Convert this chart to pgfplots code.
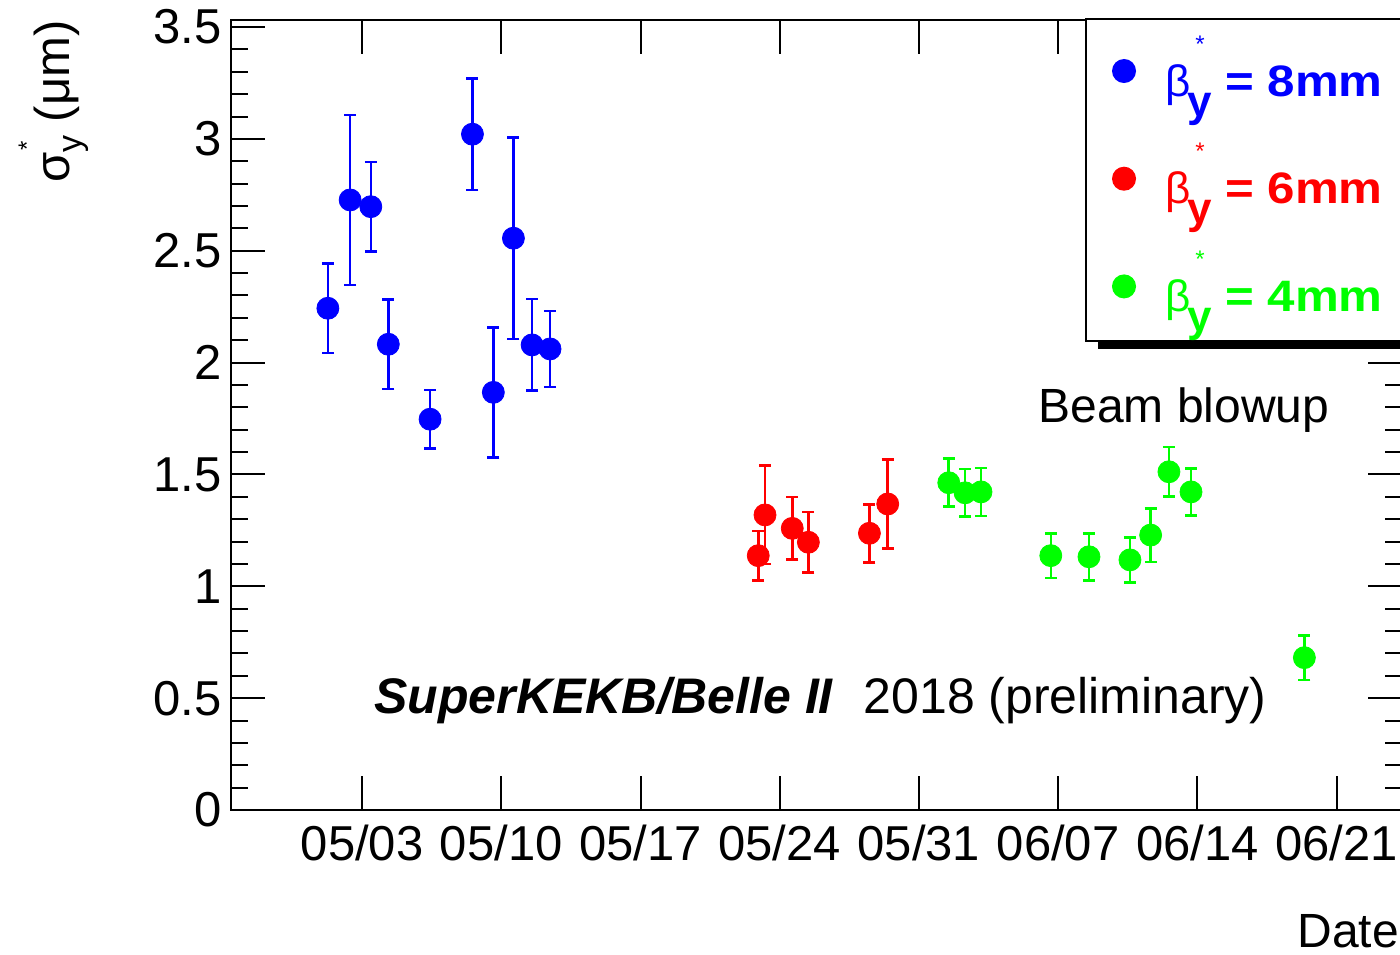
\documentclass[border=0pt]{standalone}
\usepackage{fontspec}
\setmainfont{Liberation Sans}
\newfontfamily\legfam{Liberation Sans}[FakeStretch=1.12]
\usepackage{pgfplots}
\pgfplotsset{compat=1.18}
\usetikzlibrary{shadows}
\definecolor{rblue}{RGB}{0,0,255}
\definecolor{rred}{RGB}{255,0,0}
\definecolor{rgreen}{RGB}{0,255,0}
\newcommand\legtext[1]{\fontsize{22}{26}\selectfont\hspace{15pt}β\kern-1.5pt\rlap{\raisebox{-10pt}{\bfseries y}}\rlap{\hspace{4pt}\raisebox{22pt}{\fontsize{12}{12}\selectfont *}}\hspace{19pt}{\legfam\bfseries = #1mm}\hspace{20pt}}
\begin{document}
\begin{tikzpicture}
\begin{axis}[
  at={(115.5pt,72pt)}, anchor=south west,
  scale only axis, width=585.5pt, height=395pt,
  xmin=-6.59, xmax=52.29, ymin=0, ymax=3.5315,
  xtick={0,7,14,21,28,35,42,49},
  xticklabels={05/03,05/10,05/17,05/24,05/31,06/07,06/14,06/21},
  ytick={0,0.5,1,1.5,2,2.5,3,3.5},
  minor y tick num=4,
  tick align=inside, tick pos=both,
  major tick length=17pt, minor tick length=8.5pt,
  axis line style={line width=1.4pt, black},
  tick style={line width=1pt, black},
  ticklabel style={font=\fontsize{24.5}{28}\selectfont},
  yticklabel style={inner sep=0pt, xshift=-4.5pt},
  xticklabel style={inner sep=0pt, yshift=-7.5pt, anchor=north},
  /pgf/number format/assume math mode=true,
  clip=false,
  legend style={at={(axis description cs:0.7293,1.0025)}, anchor=north west,
    draw=black, line width=1pt, fill=white,
    drop shadow={shadow xshift=6pt, shadow yshift=-4pt, fill=black, opacity=1},
    inner xsep=13.5pt, inner ysep=0pt, row sep=0.35pt,
    nodes={inner sep=0pt, text height=38.5pt, text depth=15pt, anchor=base west}},
  legend cell align=left,
  legend image code/.code={\draw[mark repeat=2,mark phase=2] plot coordinates {(0pt,12.5pt)(8pt,12.5pt)(16pt,12.5pt)};},
  error bars/error bar style={line width=1.3pt},
  error bars/error mark options={rotate=90, mark size=3pt, line width=1.3pt},
]
\addplot[only marks, mark=*, mark size=5.5pt, color=rblue,
  error bars/.cd, y dir=both, y explicit] table[x=x, y=y, y error=e] {
x y e
-1.72 2.243 0.20
-0.60 2.727 0.38
0.44 2.697 0.20
1.32 2.082 0.20
3.42 1.747 0.13
5.55 3.021 0.25
6.60 1.867 0.29
7.61 2.556 0.45
8.55 2.079 0.205
9.45 2.061 0.17
};
\addlegendentry{\textcolor{rblue}{\legtext{8}}}
\addplot[only marks, mark=*, mark size=5.5pt, color=rred,
  error bars/.cd, y dir=both, y explicit] table[x=x, y=y, y error=e] {
x y e
19.92 1.137 0.11
20.26 1.319 0.22
21.63 1.259 0.14
22.44 1.197 0.135
25.51 1.237 0.13
26.43 1.368 0.20
};
\addlegendentry{\textcolor{rred}{\legtext{6}}}
\addplot[only marks, mark=*, mark size=5.5pt, color=rgreen,
  error bars/.cd, y dir=both, y explicit] table[x=x, y=y, y error=e] {
x y e
29.50 1.463 0.107
30.32 1.418 0.107
31.12 1.422 0.107
34.63 1.137 0.10
36.55 1.132 0.105
38.61 1.118 0.10
39.65 1.229 0.12
40.57 1.512 0.11
41.68 1.422 0.105
47.38 0.681 0.10
};
\addlegendentry{\textcolor{rgreen}{\legtext{4}}}
\end{axis}
\node[rotate=90, anchor=base east, inner sep=0pt, font=\fontsize{24.5}{28}\selectfont] at (34.5pt,467pt)
  {σ\rlap{\raisebox{-6pt}{\fontsize{17}{17}\selectfont y}}\rlap{\hspace{1pt}\raisebox{17pt}{\fontsize{12}{12}\selectfont *}}\hspace{8.5pt}\ (μm)};
\node[anchor=base west, inner sep=0pt, font=\fontsize{24}{28}\selectfont] at (648.5pt,3.5pt) {Date};
\node[anchor=base west, inner sep=0pt, font=\fontsize{25}{30}\selectfont] at (187pt,120.5pt)
  {\textbf{\textit{SuperKEKB/Belle II}}\hspace{15pt}2018 (preliminary)};
\node[anchor=base west, inner sep=0pt, font=\fontsize{24}{28}\selectfont] at (519pt,265.5pt) {Beam blowup};
\pgfresetboundingbox
\path[use as bounding box] (0,0) rectangle (700pt,477pt);
\end{tikzpicture}
\end{document}
